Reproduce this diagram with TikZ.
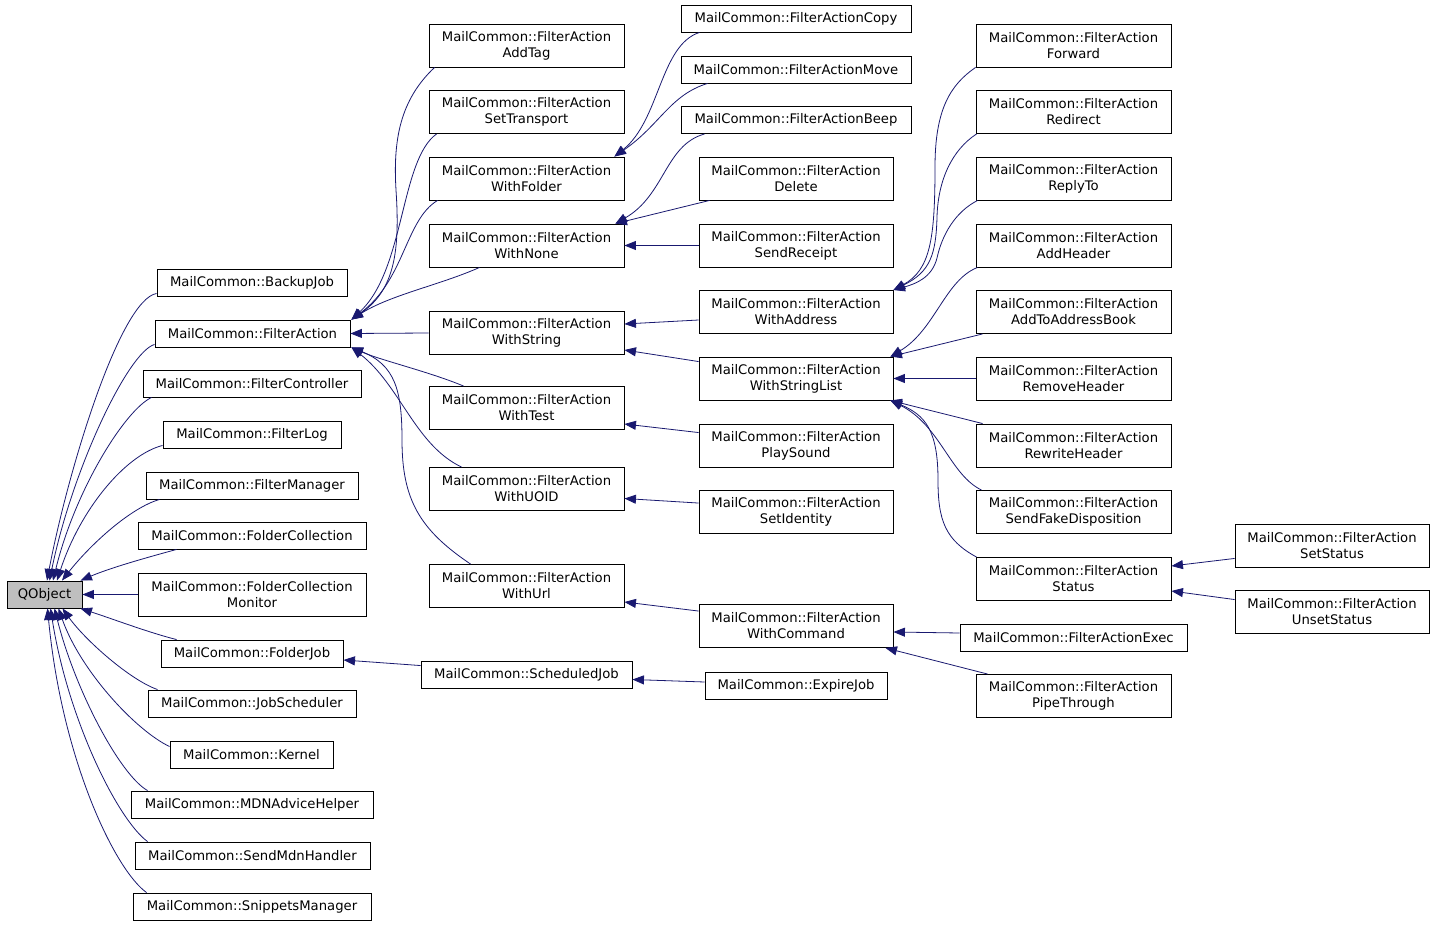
\documentclass[tikz,border=0pt]{standalone}
\usepackage{fontspec}
\newfontfamily\dvs{DejaVu Sans}
\usetikzlibrary{arrows.meta}
\definecolor{edgeblue}{HTML}{191970}
\definecolor{rootgray}{HTML}{BFBFBF}
\begin{document}
\begin{tikzpicture}[x=1pt,y=-1pt,
  box/.style={draw=black, line width=0.9pt, fill=white, inner sep=0pt, align=center,
    font={\dvs\fontsize{13.2}{16}\selectfont}},
  one/.style={minimum height=27pt},
  two/.style={minimum height=43pt},
  bw/.style={minimum width=#1},
  edge/.style={draw=edgeblue, line width=0.8pt, -{Triangle[length=11.5pt,width=9pt]}, fill=none}]
\fill[white] (0,0) rectangle (1435,925);
\useasboundingbox (0,0) rectangle (1435,925);

% root
\node[box, one, bw=75pt, fill=rootgray] (Q) at (44.5,594.5) {QObject};

% column 1
\node[box, one, bw=190pt] (BJ) at (252,282.5) {MailCommon::BackupJob};
\node[box, one, bw=195pt] (FA) at (252.5,333.5) {MailCommon::FilterAction};
\node[box, one, bw=218pt] (FC) at (252,383.5) {MailCommon::FilterController};
\node[box, one, bw=178pt] (FL) at (252,434.5) {MailCommon::FilterLog};
\node[box, one, bw=212pt] (FM) at (252,485.5) {MailCommon::FilterManager};
\node[box, one, bw=228pt] (FCo) at (252,535.5) {MailCommon::FolderCollection};
\node[box, two, bw=228pt] (FCM) at (252,594.5) {MailCommon::FolderCollection\\Monitor};
\node[box, one, bw=182pt] (FJ) at (252,653.5) {MailCommon::FolderJob};
\node[box, one, bw=208pt] (JS) at (252,703.5) {MailCommon::JobScheduler};
\node[box, one, bw=163pt] (K) at (251.5,754.5) {MailCommon::Kernel};
\node[box, one, bw=242pt] (MDN) at (252,804.5) {MailCommon::MDNAdviceHelper};
\node[box, one, bw=235pt] (SMH) at (252.5,855.5) {MailCommon::SendMdnHandler};
\node[box, one, bw=238pt] (SM) at (252,906.5) {MailCommon::SnippetsManager};

% column 2
\node[box, two, bw=195pt] (AddTag) at (526.5,45.5) {MailCommon::FilterAction\\AddTag};
\node[box, two, bw=195pt] (SetTr) at (526.5,112) {MailCommon::FilterAction\\SetTransport};
\node[box, two, bw=195pt] (WF) at (526.5,178.5) {MailCommon::FilterAction\\WithFolder};
\node[box, two, bw=195pt] (WN) at (526.5,245.5) {MailCommon::FilterAction\\WithNone};
\node[box, two, bw=195pt] (WS) at (526.5,333) {MailCommon::FilterAction\\WithString};
\node[box, two, bw=195pt] (WT) at (526.5,408) {MailCommon::FilterAction\\WithTest};
\node[box, two, bw=195pt] (WU) at (526.5,489) {MailCommon::FilterAction\\WithUOID};
\node[box, two, bw=195pt] (WUrl) at (526.5,586) {MailCommon::FilterAction\\WithUrl};
\node[box, one, bw=211pt] (SJ) at (526.5,674.5) {MailCommon::ScheduledJob};

% column 3
\node[box, one, bw=230pt] (Copy) at (796,18.5) {MailCommon::FilterActionCopy};
\node[box, one, bw=230pt] (Move) at (796,69.5) {MailCommon::FilterActionMove};
\node[box, one, bw=230pt] (Beep) at (796,120) {MailCommon::FilterActionBeep};
\node[box, two, bw=194pt] (Del) at (796,178.5) {MailCommon::FilterAction\\Delete};
\node[box, two, bw=194pt] (SR) at (796,245.5) {MailCommon::FilterAction\\SendReceipt};
\node[box, two, bw=194pt] (WA) at (796,312) {MailCommon::FilterAction\\WithAddress};
\node[box, two, bw=194pt] (WSL) at (796,378.5) {MailCommon::FilterAction\\WithStringList};
\node[box, two, bw=194pt] (PS) at (796,445.5) {MailCommon::FilterAction\\PlaySound};
\node[box, two, bw=194pt] (SI) at (796,512) {MailCommon::FilterAction\\SetIdentity};
\node[box, two, bw=194pt] (WC) at (796,626) {MailCommon::FilterAction\\WithCommand};
\node[box, one, bw=182pt] (EJ) at (796,686) {MailCommon::ExpireJob};

% column 4
\node[box, two, bw=195pt] (Fwd) at (1073.5,45.5) {MailCommon::FilterAction\\Forward};
\node[box, two, bw=195pt] (Rd) at (1073.5,112) {MailCommon::FilterAction\\Redirect};
\node[box, two, bw=195pt] (RT) at (1073.5,178.5) {MailCommon::FilterAction\\ReplyTo};
\node[box, two, bw=195pt] (AH) at (1073.5,245.5) {MailCommon::FilterAction\\AddHeader};
\node[box, two, bw=195pt] (AAB) at (1073.5,312) {MailCommon::FilterAction\\AddToAddressBook};
\node[box, two, bw=195pt] (RH) at (1073.5,378.5) {MailCommon::FilterAction\\RemoveHeader};
\node[box, two, bw=195pt] (RwH) at (1073.5,445.5) {MailCommon::FilterAction\\RewriteHeader};
\node[box, two, bw=195pt] (SFD) at (1073.5,512) {MailCommon::FilterAction\\SendFakeDisposition};
\node[box, two, bw=195pt] (St) at (1073.5,579) {MailCommon::FilterAction\\Status};
\node[box, one, bw=227pt] (Ex) at (1073.5,637.5) {MailCommon::FilterActionExec};
\node[box, two, bw=195pt] (PT) at (1073.5,696) {MailCommon::FilterAction\\PipeThrough};

% column 5
\node[box, two, bw=194pt] (SS) at (1332,545.5) {MailCommon::FilterAction\\SetStatus};
\node[box, two, bw=194pt] (US) at (1332,612) {MailCommon::FilterAction\\UnsetStatus};

% ---- edges to QObject
\draw[edge] ([shift={(0,-3)}]BJ.south west) .. controls (120,300) and (68,470) .. ([shift={(2.5,0)}]Q.north);
\draw[edge] ([shift={(0,-3)}]FA.south west) .. controls (128,352) and (72,470) .. ([shift={(5,0)}]Q.north);
\draw[edge] ([shift={(9,0)}]FC.south west) .. controls (125,410) and (75,490) .. ([shift={(8.5,0)}]Q.north);
\draw[edge] ([shift={(0,-3)}]FL.south west) .. controls (125,455) and (80,510) .. ([shift={(12.5,0)}]Q.north);
\draw[edge] ([shift={(14,0)}]FM.south west) .. controls (130,508) and (90,545) .. ([shift={(17.5,0)}]Q.north);
\draw[edge] ([shift={(39,0)}]FCo.south west) .. controls (145,558) and (110,568) .. ([shift={(-2,0)}]Q.north east);
\draw[edge] (FCM.west) -- (Q.east);
\draw[edge] ([shift={(16,0)}]FJ.north west) .. controls (150,633) and (110,618) .. ([shift={(-2,0)}]Q.south east);
\draw[edge] ([shift={(10,0)}]JS.north west) .. controls (130,680) and (85,640) .. ([shift={(18,0)}]Q.south);
\draw[edge] ([shift={(0,6)}]K.north west) .. controls (135,730) and (80,670) .. ([shift={(14,0)}]Q.south);
\draw[edge] ([shift={(17,0)}]MDN.north west) .. controls (120,775) and (75,690) .. ([shift={(10,0)}]Q.south);
\draw[edge] ([shift={(13,0)}]SMH.north west) .. controls (118,820) and (68,720) .. ([shift={(6,0)}]Q.south);
\draw[edge] ([shift={(14,0)}]SM.north west) .. controls (115,870) and (62,760) .. ([shift={(3,0)}]Q.south);

% ---- edges to FilterAction
\draw[edge] ([shift={(6,0)}]AddTag.south west) .. controls (400,100) and (393,140) .. (396,190)
   .. controls (400,250) and (395,290) .. ([shift={(1,0)}]FA.north east);
\draw[edge] ([shift={(8,0)}]SetTr.south west) .. controls (400,160) and (405,270) .. ([shift={(1,0)}]FA.north east);
\draw[edge] ([shift={(9,0)}]WF.south west) .. controls (405,220) and (405,280) .. ([shift={(1,0)}]FA.north east);
\draw[edge] ([shift={(51,0)}]WN.south west) .. controls (440,285) and (390,295) .. ([shift={(1,0)}]FA.north east);
\draw[edge] (WS.west) -- (FA.east);
\draw[edge] ([shift={(35,0)}]WT.north west) .. controls (430,372) and (380,360) .. ([shift={(1,0)}]FA.south east);
\draw[edge] ([shift={(33,0)}]WU.north west) .. controls (415,445) and (400,385) .. ([shift={(1,0)}]FA.south east);
\draw[edge] ([shift={(42,0)}]WUrl.north west) .. controls (420,530) and (402,500) .. (402,440)
   .. controls (402,390) and (395,365) .. ([shift={(1,0)}]FA.south east);

% ---- edges to WithFolder / WithNone
\draw[edge] ([shift={(19,0)}]Copy.south west) .. controls (660,45) and (660,120) .. ([shift={(-10,0)}]WF.north east);
\draw[edge] ([shift={(27,0)}]Move.south west) .. controls (670,95) and (660,125) .. ([shift={(-10,0)}]WF.north east);
\draw[edge] ([shift={(24,0)}]Beep.south west) .. controls (665,145) and (665,195) .. ([shift={(-9,0)}]WN.north east);
\draw[edge] ([shift={(11,0)}]Del.south west) -- ([shift={(-9,0)}]WN.north east);
\draw[edge] (SR.west) -- (WN.east);

% ---- edges to WithString, WithTest, WithUOID, WithUrl
\draw[edge] ([shift={(0,8)}]WA.west) -- ([shift={(0,-9)}]WS.east);
\draw[edge] ([shift={(0,5)}]WSL.north west) -- ([shift={(0,17)}]WS.east);
\draw[edge] ([shift={(0,9)}]PS.north west) -- ([shift={(0,16)}]WT.east);
\draw[edge] ([shift={(0,13)}]SI.north west) -- ([shift={(0,9.5)}]WU.east);
\draw[edge] ([shift={(0,7)}]WC.north west) -- ([shift={(0,16)}]WUrl.east);

% ---- jobs
\draw[edge] ([shift={(0,5)}]SJ.north west) -- ([shift={(0,6.5)}]FJ.east);
\draw[edge] ([shift={(0,-4)}]EJ.west) -- ([shift={(0,5)}]SJ.east);

% ---- edges to WithAddress
\draw[edge] (Fwd.south west) .. controls (950,85) and (935,110) .. (935,167)
   .. controls (935,240) and (930,270) .. (WA.north east);
\draw[edge] ([shift={(1,0)}]Rd.south west) .. controls (952,150) and (938,180) .. (937,217)
   .. controls (936,255) and (930,272) .. (WA.north east);
\draw[edge] ([shift={(2,0)}]RT.south west) .. controls (955,212) and (942,235) .. (937,258)
   .. controls (932,278) and (915,284) .. (WA.north east);

% ---- edges to WithStringList
\draw[edge] ([shift={(2,0)}]AH.south west) .. controls (945,280) and (935,330) .. ([shift={(-3,0)}]WSL.north east);
\draw[edge] ([shift={(7,0)}]AAB.south west) -- ([shift={(-3,0)}]WSL.north east);
\draw[edge] (RH.west) -- (WSL.east);
\draw[edge] ([shift={(7,0)}]RwH.north west) -- ([shift={(-3,0)}]WSL.south east);
\draw[edge] ([shift={(6,0)}]SFD.north west) .. controls (950,475) and (940,425) .. ([shift={(-3,0)}]WSL.south east);
\draw[edge] ([shift={(1,0)}]St.north west) .. controls (945,540) and (938,520) .. (938,480)
   .. controls (938,430) and (925,415) .. ([shift={(-3,0)}]WSL.south east);

% ---- edges to Status
\draw[edge] ([shift={(0,-9)}]SS.south west) -- ([shift={(0,-13)}]St.east);
\draw[edge] ([shift={(0,9.5)}]US.north west) -- ([shift={(0,12)}]St.east);

% ---- edges to WithCommand
\draw[edge] ([shift={(0,-4.5)}]Ex.west) -- ([shift={(0,6)}]WC.east);
\draw[edge] ([shift={(12,0)}]PT.north west) -- ([shift={(-8,0)}]WC.south east);
\end{tikzpicture}
\end{document}
